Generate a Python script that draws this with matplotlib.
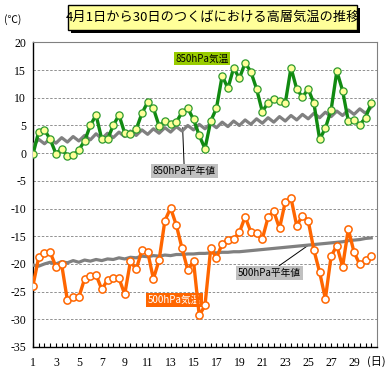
import numpy as np
import matplotlib.pyplot as plt
from matplotlib.patches import Rectangle

plt.rcParams['font.family'] = ['Noto Sans CJK JP', 'DejaVu Sans']

# 1日2回 (9時, 21時) の観測値、4月1日〜30日
t850 = [-0.2, 3.9, 4.2, 2.5, -0.1, 0.8, -0.5, -0.4, 0.6, 2.2,
        5.0, 6.9, 2.5, 2.5, 5.0, 6.9, 3.6, 3.4, 4.3, 7.2,
        9.2, 8.1, 4.9, 5.8, 5.2, 5.6, 7.4, 8.1, 6.1, 3.2,
        0.8, 5.8, 8.1, 14.0, 11.7, 15.4, 13.5, 16.3, 14.7, 11.6,
        7.5, 9.1, 9.8, 9.5, 9.0, 15.4, 11.6, 10.1, 11.6, 9.0,
        2.5, 4.5, 7.8, 14.8, 11.3, 5.8, 6.0, 5.1, 6.4, 9.0]

n850 = [1.4, 2.5, 1.7, 2.6, 1.8, 2.8, 2.0, 3.0, 2.2, 3.2,
        2.4, 3.5, 2.6, 3.6, 2.8, 3.8, 3.0, 4.0, 3.2, 4.2,
        3.4, 4.4, 3.6, 4.6, 3.8, 4.8, 4.0, 5.0, 4.2, 5.2,
        4.4, 5.4, 4.6, 5.6, 4.8, 5.8, 5.0, 6.0, 5.2, 6.2,
        5.4, 6.4, 5.6, 6.6, 5.8, 6.8, 6.0, 7.0, 6.2, 7.2,
        6.4, 7.4, 6.6, 7.6, 6.8, 7.8, 7.0, 8.0, 7.2, 8.3]

t500 = [-23.9, -18.8, -18.0, -17.9, -20.5, -20.1, -26.6, -26.0, -26.0, -22.7,
        -22.2, -22.0, -24.6, -22.9, -22.5, -22.6, -25.5, -19.5, -21.0, -17.5,
        -17.8, -22.7, -19.3, -12.2, -9.9, -13.0, -17.2, -21.1, -19.5, -29.3,
        -27.5, -17.2, -18.9, -16.4, -15.7, -15.5, -14.3, -11.5, -14.2, -14.5,
        -15.5, -11.6, -10.5, -13.6, -8.8, -8.1, -13.1, -11.3, -12.2, -17.5,
        -21.5, -26.3, -18.6, -16.7, -20.5, -13.7, -17.9, -20.1, -19.3, -18.6]

n500 = [-20.2, -20.4, -20.0, -19.7, -20.0, -19.6, -19.8, -19.4, -19.7, -19.3,
        -19.5, -19.2, -19.4, -19.1, -19.2, -18.9, -19.1, -18.8, -18.9, -18.6,
        -18.7, -18.5, -18.6, -18.4, -18.5, -18.3, -18.3, -18.2, -18.2, -18.1,
        -18.1, -18.0, -18.0, -17.9, -17.9, -17.8, -17.8, -17.7, -17.6, -17.5,
        -17.4, -17.3, -17.2, -17.1, -17.0, -16.9, -16.8, -16.7, -16.6, -16.5,
        -16.4, -16.3, -16.2, -16.1, -16.0, -15.8, -15.7, -15.6, -15.4, -15.3]

day_labels = ['1', '3', '5', '7', '9', '11', '13', '15', '17', '19',
              '21', '23', '25', '27', '29']
y_ticks = [20, 15, 10, 5, 0, -5, -10, -15, -20, -25, -30, -35]

x = np.arange(1, 31, 0.5)

fig = plt.figure(figsize=(3.9, 3.89), dpi=100)
ax = fig.add_axes([0.0846, 0.108, 0.882, 0.783])

for v in y_ticks:
    ax.axhline(v, color='#808080', lw=0.6, ls=(0, (3, 2)), zorder=1)

ax.plot(x, n850, color='#808080', lw=2.3, zorder=3)
ax.plot(x, n500, color='#808080', lw=2.3, zorder=3)
ax.plot(x, t850, color='#118a11', lw=2.4, marker='o', ms=5.2,
        mfc='#ffff99', mec='#2e9a2e', mew=0.9, zorder=4)
ax.plot(x, t500, color='#ff6600', lw=2.4, marker='o', ms=5.2,
        mfc='white', mec='#ff6600', mew=1.1, zorder=4)

ax.set_xlim(1, 31)
ax.set_ylim(-35, 20)
ax.set_yticks(y_ticks)
ax.set_yticklabels([str(v) for v in y_ticks], family='Liberation Serif', fontsize=8.5)
ax.set_xticks(x, minor=True)
ax.set_xticks(np.arange(1, 30, 2))
ax.set_xticklabels(day_labels, family='Liberation Serif', fontsize=8.5)
ax.tick_params(axis='y', length=0, pad=5)
ax.tick_params(axis='x', which='both', direction='in', length=3, width=0.8, pad=7)
for s in ['top', 'right']:
    ax.spines[s].set_color('#808080')
ax.spines['left'].set_linewidth(1.0)
ax.spines['bottom'].set_linewidth(1.0)

# ラベル
ax.text(15.77, 17.1, '850hPa気温', fontsize=7, ha='center', va='center', zorder=2,
        bbox=dict(boxstyle='square,pad=0.15', fc='#99cc00', ec='none'))
ax.annotate('850hPa平年値', xy=(14.05, 4.6), xytext=(14.2, -3.25), fontsize=7,
            ha='center', va='center', zorder=2,
            bbox=dict(boxstyle='square,pad=0.2', fc='#c0c0c0', ec='none'),
            arrowprops=dict(arrowstyle='-', color='black', lw=0.7, shrinkA=0, shrinkB=0))
ax.text(13.33, -26.5, '500hPa気温', fontsize=7, color='white', ha='center', va='center',
        zorder=2, bbox=dict(boxstyle='square,pad=0.2', fc='#ff6600', ec='none'))
ax.annotate('500hPa平年値', xy=(25.1, -16.5), xytext=(21.6, -21.6), fontsize=7,
            ha='center', va='center', zorder=2,
            bbox=dict(boxstyle='square,pad=0.2', fc='#c0c0c0', ec='none'),
            arrowprops=dict(arrowstyle='-', color='black', lw=0.7, shrinkA=0, shrinkB=0))

# タイトルボックス (影付き)
W, H = 390.0, 389.0
fig.patches.append(Rectangle((71 / W, 1 - 33 / H), 289 / W, 25 / H, transform=fig.transFigure,
                             fc='black', ec='none', zorder=0))
fig.patches.append(Rectangle((68 / W, 1 - 30 / H), 289 / W, 25 / H, transform=fig.transFigure,
                             fc='#ffff99', ec='black', lw=1.0, zorder=1))
fig.text(212.5 / W, 1 - 17.5 / H, '4月1日から30日のつくばにおける高層気温の推移',
         fontsize=9.5, ha='center', va='center')

fig.text(13 / W, 1 - 20 / H, '(℃)', fontsize=7.5, ha='center', va='center')
fig.text(376 / W, 1 - 362 / H, '(日)', fontsize=8, ha='center', va='center')

fig.savefig('out.png', dpi=100)
